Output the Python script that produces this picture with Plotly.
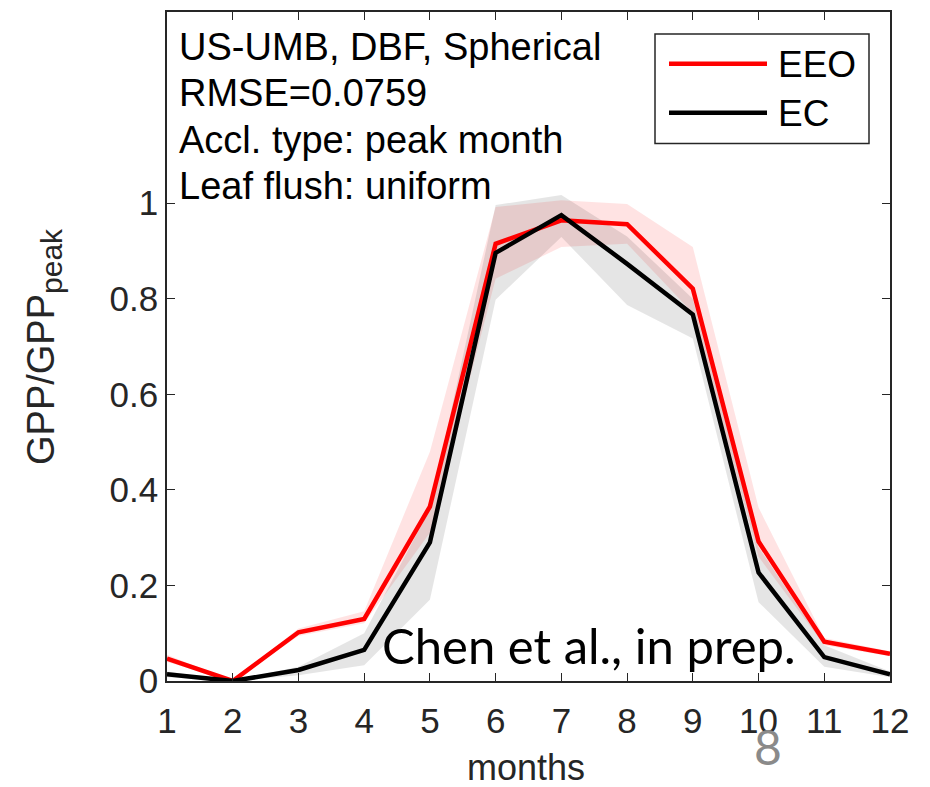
import plotly.graph_objects as go

months = list(range(1, 13))
eeo = [0.047, 0.0, 0.102, 0.130, 0.365, 0.915, 0.964, 0.956, 0.821, 0.292, 0.082, 0.057]
ec = [0.014, 0.0, 0.023, 0.065, 0.290, 0.896, 0.975, 0.873, 0.767, 0.227, 0.050, 0.014]
eeo_lo = [0.040, 0.0, 0.094, 0.121, 0.310, 0.842, 0.908, 0.915, 0.770, 0.260, 0.075, 0.052]
eeo_hi = [0.055, 0.0, 0.110, 0.146, 0.480, 0.992, 1.006, 0.998, 0.908, 0.363, 0.090, 0.062]
ec_lo = [0.008, 0.0, 0.012, 0.033, 0.170, 0.798, 0.929, 0.787, 0.717, 0.165, 0.030, 0.008]
ec_hi = [0.020, 0.0, 0.030, 0.100, 0.360, 0.996, 1.017, 0.930, 0.800, 0.280, 0.075, 0.020]

y_ticks = [0, 0.2, 0.4, 0.6, 0.8, 1]
y_ticklabels = ["0", "0.2", "0.4", "0.6", "0.8", "1"]
info_lines = ["US-UMB, DBF, Spherical", "RMSE=0.0759", "Accl. type: peak month", "Leaf flush: uniform"]
legend_names = ["EEO", "EC"]

O = 8  # browser default body margin offset
W, H = 930 - O, 787 - O
L, R, T, B = 167 - O, 40, 10 - O, 106
pw, ph = W - L - R, H - T - B

def px(x):
    return (x - O - L) / pw

def py(y):
    return (H - B - (y - O)) / ph

AX = "#262626"
FONT = "Liberation Sans, Arial, Helvetica, sans-serif"

fig = go.Figure()

# bands
fig.add_trace(go.Scatter(x=months + months[::-1], y=eeo_hi + eeo_lo[::-1], fill="toself",
                         fillcolor="rgba(255,0,0,0.11)", line=dict(width=0), mode="lines",
                         showlegend=False, hoverinfo="skip"))
fig.add_trace(go.Scatter(x=months + months[::-1], y=ec_hi + ec_lo[::-1], fill="toself",
                         fillcolor="rgba(0,0,0,0.10)", line=dict(width=0), mode="lines",
                         showlegend=False, hoverinfo="skip"))
# lines
fig.add_trace(go.Scatter(x=months, y=eeo, mode="lines", line=dict(color="#ff0000", width=4.5),
                         name=legend_names[0], showlegend=False))
fig.add_trace(go.Scatter(x=months, y=ec, mode="lines", line=dict(color="#000000", width=4.5),
                         name=legend_names[1], showlegend=False))

shapes = []
annotations = []

# custom legend box
shapes.append(dict(type="rect", xref="paper", yref="paper", x0=px(655), x1=px(869),
                   y0=py(142), y1=py(32), line=dict(color=AX, width=1.5), fillcolor="white"))
for name, col, yy in [(legend_names[0], "#ff0000", 62), (legend_names[1], "#000000", 111)]:
    shapes.append(dict(type="line", xref="paper", yref="paper", x0=px(669), x1=px(767),
                       y0=py(yy), y1=py(yy), line=dict(color=col, width=4.5)))
    annotations.append(dict(xref="paper", yref="paper", x=px(776), y=py(yy + 1), text=name,
                            showarrow=False, xanchor="left", yanchor="middle",
                            font=dict(family=FONT, size=37, color="black")))

# info text
for i, t in enumerate(info_lines):
    annotations.append(dict(xref="paper", yref="paper", x=px(177), y=py(45 + i * 46.5), text=t,
                            showarrow=False, xanchor="left", yanchor="middle",
                            font=dict(family=FONT, size=38, color="black")))

annotations.append(dict(xref="paper", yref="paper", x=px(380), y=py(645), text="Chen et al., in prep.",
                        showarrow=False, xanchor="left", yanchor="middle",
                        font=dict(family="Lato, Open Sans, sans-serif", size=49, color="black")))
annotations.append(dict(xref="paper", yref="paper", x=px(768), y=py(747), text="8",
                        showarrow=False, xanchor="center", yanchor="middle",
                        font=dict(family="Lato, Open Sans, sans-serif", size=48, color="#8a8a8a")))

# y label
annotations.append(dict(xref="paper", yref="paper", x=px(44), y=py(346),
                        text="GPP/GPP<sub><span style='font-size:30px'>peak</span></sub>",
                        showarrow=False, textangle=-90, xanchor="center", yanchor="middle",
                        font=dict(family=FONT, size=38, color=AX)))
# x label
annotations.append(dict(xref="paper", yref="paper", x=px(526), y=py(768), text="months",
                        showarrow=False, xanchor="center", yanchor="middle",
                        font=dict(family=FONT, size=36, color=AX)))

fig.update_layout(
    width=W, height=H, margin=dict(l=L, r=R, t=T, b=B),
    plot_bgcolor="white", paper_bgcolor="white",
    shapes=shapes, annotations=annotations, showlegend=False,
    xaxis=dict(range=[1, 12], tickmode="array", tickvals=months, ticktext=[str(m) for m in months],
               ticks="inside", ticklen=8, tickcolor=AX, tickwidth=1.2, showline=True, linecolor=AX,
               linewidth=1.5, mirror="allticks", showgrid=False, zeroline=False,
               ticklabelstandoff=8,
               tickfont=dict(family=FONT, size=35, color=AX)),
    yaxis=dict(range=[0, 1.4], tickmode="array", tickvals=y_ticks, ticktext=y_ticklabels,
               ticks="inside", ticklen=8, tickcolor=AX, tickwidth=1.2, showline=True, linecolor=AX,
               linewidth=1.5, mirror="allticks", showgrid=False, zeroline=False,
               tickfont=dict(family=FONT, size=35, color=AX)),
)

fig.write_html("out.html")
